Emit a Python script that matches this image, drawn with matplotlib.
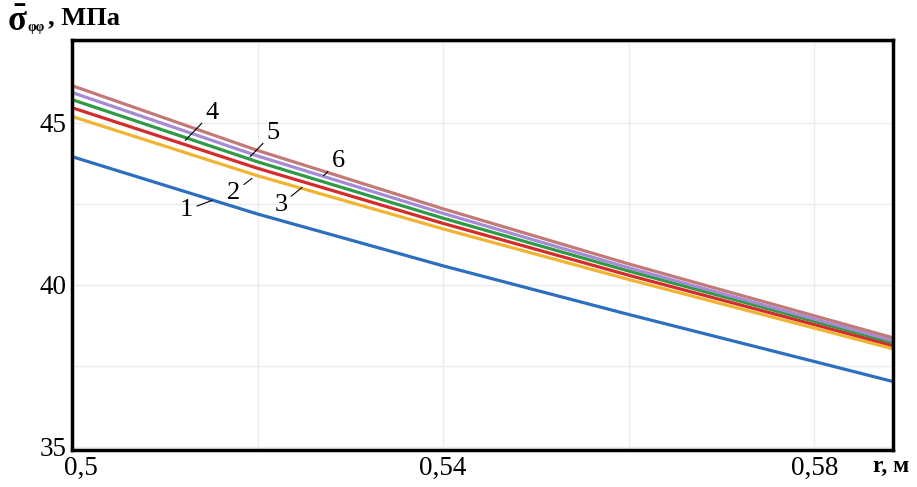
import numpy as np
import matplotlib
matplotlib.use('Agg')
import matplotlib.pyplot as plt
import matplotlib.transforms as mtransforms

plt.rcParams['font.family'] = ['Liberation Serif', 'DejaVu Serif']
plt.rcParams['mathtext.fontset'] = 'custom'
plt.rcParams['mathtext.rm'] = 'Liberation Serif'
plt.rcParams['mathtext.bf'] = 'Liberation Serif:bold'
plt.rcParams['mathtext.it'] = 'Liberation Serif:italic'

# radius, m
r = [0.5, 0.52, 0.54, 0.56, 0.58, 0.5885]
# sigma_phiphi, MPa (curves 1..6)
s1 = [43.95, 42.18, 40.58, 39.08, 37.63, 37.01]
s2 = [45.19, 43.36, 41.72, 40.16, 38.66, 38.02]
s3 = [45.46, 43.59, 41.89, 40.29, 38.77, 38.12]
s4 = [45.71, 43.79, 42.05, 40.42, 38.87, 38.21]
s5 = [45.93, 43.97, 42.20, 40.52, 38.94, 38.27]
s6 = [46.14, 44.14, 42.34, 40.64, 39.04, 38.36]

colors = ['#2d6fbe', '#f0b432', '#d42b2b', '#2f9a45', '#a58bd6', '#c27a78']
curve_labels = ['1', '2', '3', '4', '5', '6']
# (text position, point on curve)
label_pos = [((0.5123, 42.30), (0.5151, 42.60)),
             ((0.5174, 42.84), (0.5194, 43.28)),
             ((0.5225, 42.47), (0.5248, 43.00)),
             ((0.5151, 45.31), (0.5122, 44.45)),
             ((0.5217, 44.69), (0.5192, 43.95)),
             ((0.5287, 43.80), (0.5271, 43.36))]

fig = plt.figure(figsize=(9.17, 4.87), dpi=100)
ax = fig.add_axes([0.0785, 0.076, 0.8955, 0.842])

for s, c in zip([s1, s2, s3, s4, s5, s6], colors):
    ax.plot(r, s, color=c, lw=2.3, solid_capstyle='butt')

for lab, (txt, pt) in zip(curve_labels, label_pos):
    ax.annotate(lab, xy=pt, xytext=txt, fontsize=19, ha='center', va='center',
                arrowprops=dict(arrowstyle='-', color='k', lw=0.8,
                                shrinkA=1, shrinkB=0))

ax.set_xlim(0.5, 0.5885)
ax.set_ylim(34.9, 47.55)
ax.set_xticks([0.5, 0.52, 0.54, 0.56, 0.58])
ax.set_xticklabels(['0,5', '', '0,54', '', '0,58'])
ax.set_yticks([35, 37.5, 40, 42.5, 45, 47.5])
ax.set_yticklabels(['35', '', '40', '', '45', ''])
ax.tick_params(length=0, labelsize=19.5, pad=4)
ax.grid(True, color='#ececec', lw=1)
for sp in ax.spines.values():
    sp.set_linewidth(2.5)

# first x label sits a bit right of its tick
lbl = ax.get_xticklabels()[0]
lbl.set_transform(lbl.get_transform() +
                  mtransforms.ScaledTranslation(9 / 100, 0, fig.dpi_scale_trans))

fig.text(0.952, 0.03, 'r, м', fontsize=17, fontweight='bold')
fig.text(0.008, 0.936, r'$\mathbf{\bar{\sigma}}$', fontsize=25)
fig.text(0.030, 0.936, 'φφ', fontsize=10, fontweight='bold')
fig.text(0.052, 0.950, ', МПа', fontsize=19, fontweight='bold')

fig.savefig('out.png', dpi=100)
